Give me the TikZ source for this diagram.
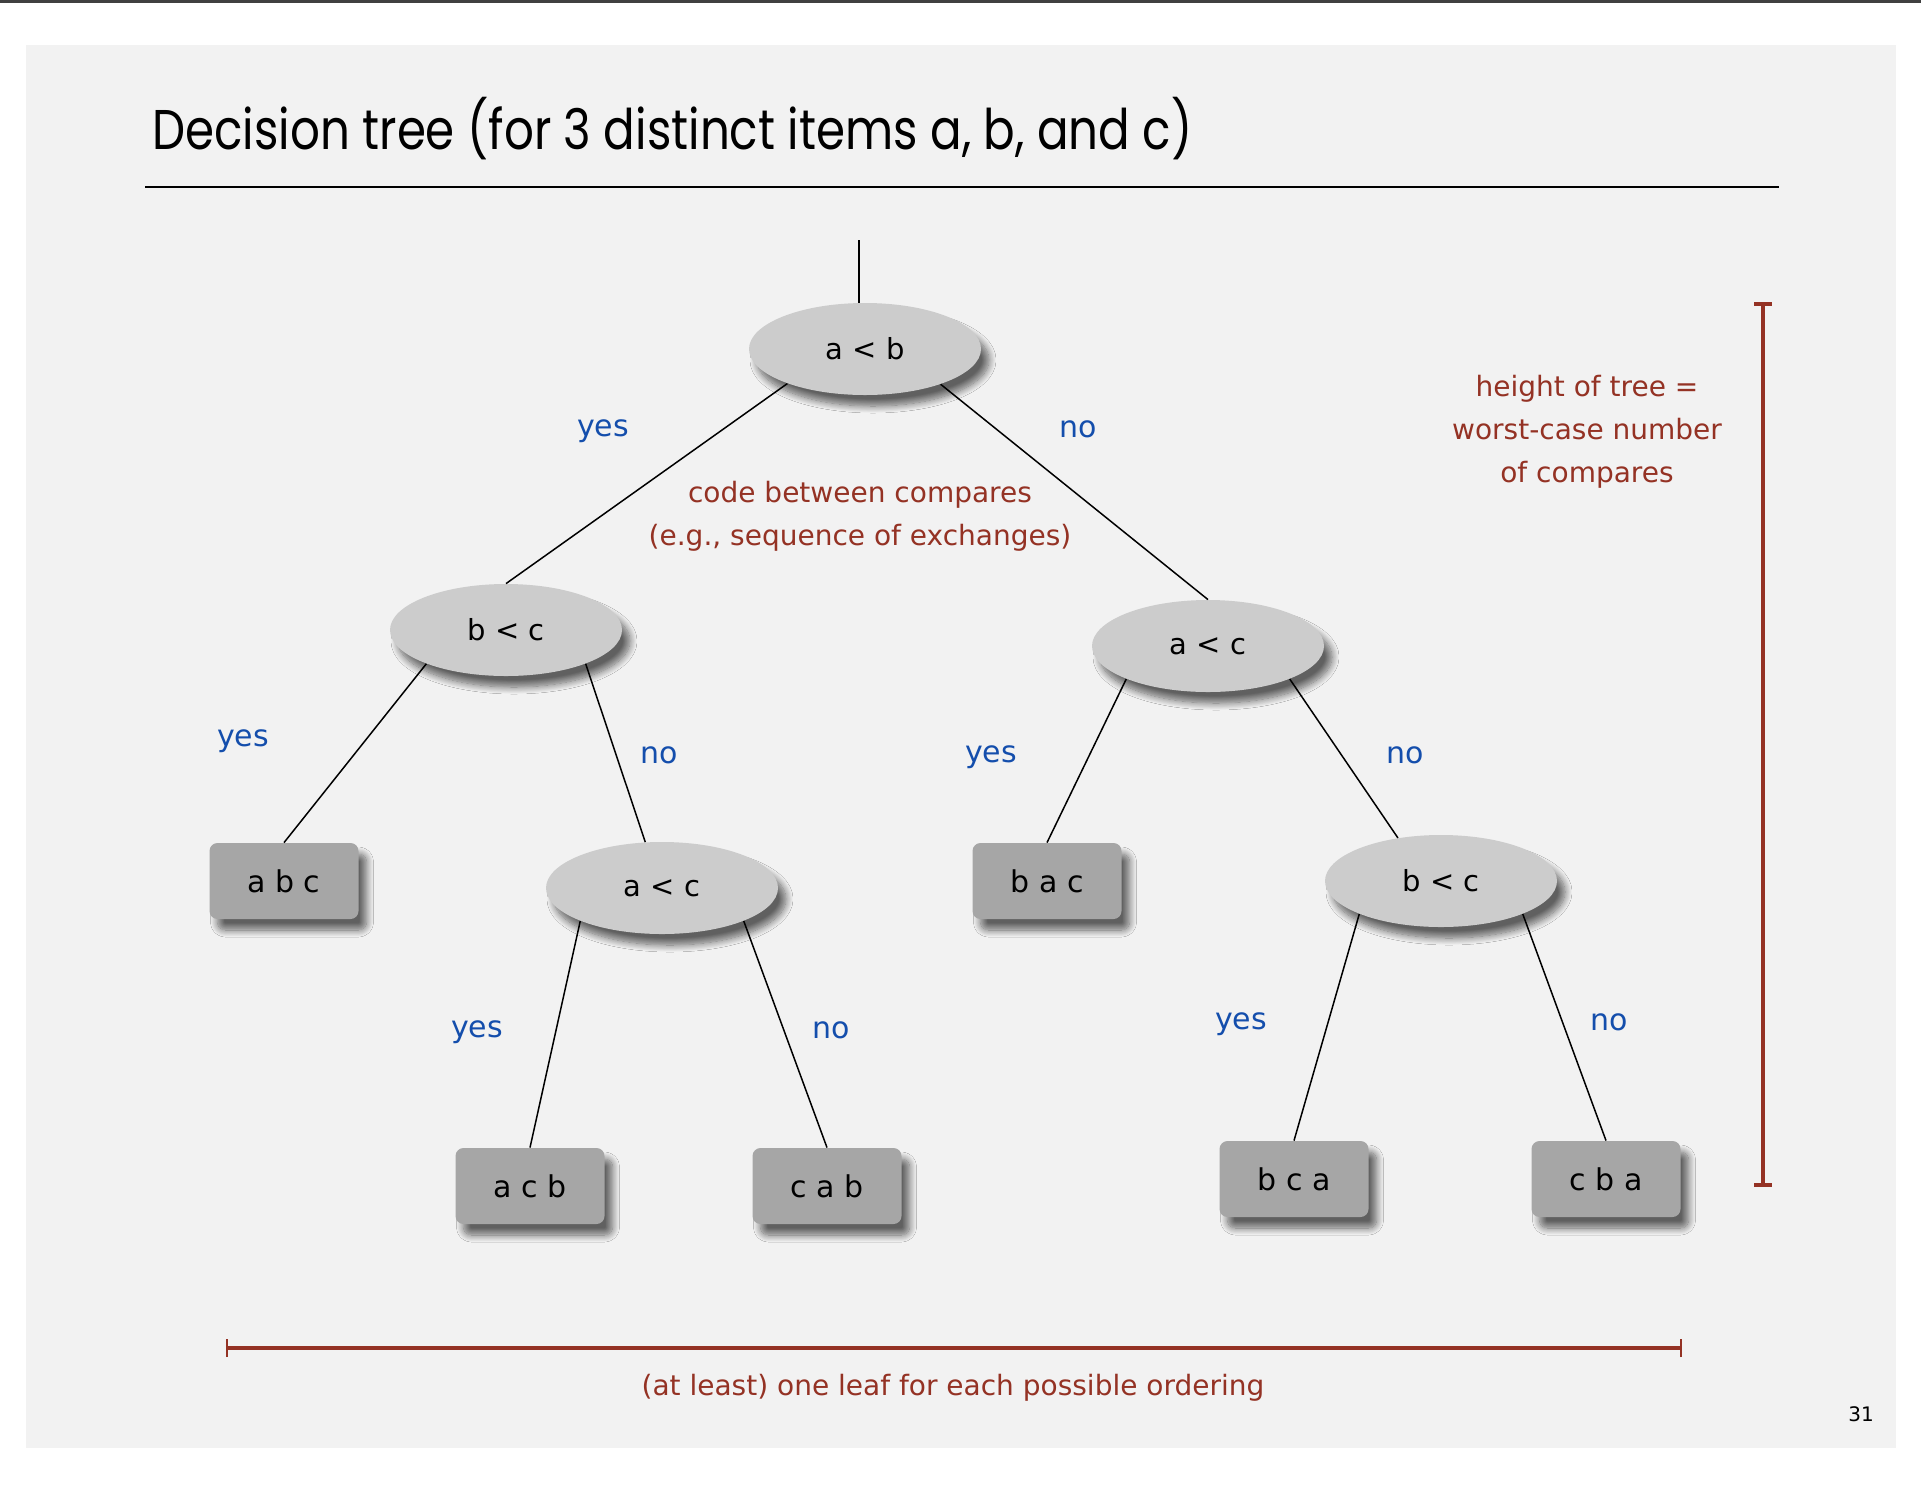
\documentclass[tikz,border=0pt]{standalone}
\usepackage{fontspec}
\setmainfont{DejaVu Sans}
\newfontfamily\titlefont[FakeStretch=0.835]{Poppins}
\usetikzlibrary{shapes.geometric,shadows.blur}
\definecolor{panel}{HTML}{F2F2F2}
\definecolor{ellfill}{HTML}{CCCCCC}
\definecolor{leaffill}{HTML}{A6A6A6}
\definecolor{lblblue}{RGB}{20,78,172}
\definecolor{notered}{RGB}{148,50,36}
\tikzset{
  softshadow/.style={blur shadow={shadow xshift=4pt, shadow yshift=-5.5pt, shadow blur radius=3.5pt, shadow blur steps=12, shadow opacity=60}},
  cmp/.style={ellipse, fill=ellfill, minimum width=116pt, minimum height=46pt, inner sep=0pt,
    font=\fontsize{14.5}{17}\selectfont, softshadow},
  leaf/.style={rectangle, rounded corners=4pt, fill=leaffill, minimum width=74.5pt, minimum height=38pt, inner sep=0pt,
    font=\fontsize{15}{17}\selectfont, softshadow},
  yn/.style={text=lblblue, font=\fontsize{15}{17}\selectfont, inner sep=0pt},
  note/.style={text=notered, font=\fontsize{14}{21.5}\selectfont, align=center, inner sep=0pt},
  edge/.style={line width=0.75pt},
  bracket/.style={notered, line width=1.6pt}
}
\begin{document}
\begin{tikzpicture}[x=0.5pt,y=-0.5pt]
\useasboundingbox (0,0) rectangle (1921,1489);
\fill[white] (0,0) rectangle (1921,1489);
\fill[black!75] (0,0) rectangle (1921,3);
\fill[panel] (26,45) rectangle (1896,1448);
% title
\node[anchor=base west, inner sep=0pt, font=\titlefont\fontsize{28}{32}\selectfont] (title) at (152,149) {Decision tree (for 3 distinct items a, b, and c)};
\draw[line width=1pt] (145,187) coordinate (rl) -- (1779,187) coordinate (rr);
% nodes
\node[cmp] (ab) at (865,349) {a < b};
\node[cmp] (bc) at (506,630) {b < c};
\node[cmp] (acR) at (1208,646) {a < c};
\node[cmp] (acL) at (662,888) {a < c};
\node[cmp] (bcR) at (1441,881) {b < c};
\node[leaf] (abc) at (284,881) {a b c};
\node[leaf] (bac) at (1047,881) {b a c};
\node[leaf] (acb) at (530,1186) {a c b};
\node[leaf] (cab) at (827,1186) {c a b};
\node[leaf] (bca) at (1294,1179) {b c a};
\node[leaf] (cba) at (1606,1179) {c b a};
% edges
\coordinate (top) at (859,240);
\draw[line width=1pt] (top) -- (top |- ab.north);
\draw[edge] (ab.204) -- (bc.north);
\draw[edge] (ab.335) -- (acR.north);
\draw[edge] (bc.203) -- (abc.north);
\draw[edge] (bc.337) -- (acL.110);
\draw[edge] (acR.202) -- (bac.north);
\draw[edge] (acR.338) -- (bcR.135);
\draw[edge] (acL.202) -- (acb.north);
\draw[edge] (acL.338) -- (cab.north);
\draw[edge] (bcR.202) -- (bca.north);
\draw[edge] (bcR.338) -- (cba.north);
% labels
\node[yn] (y1) at (603,431) {yes};
\node[yn] (n1) at (1078,429) {no};
\node[yn] (y2) at (243,741) {yes};
\node[yn] (n2) at (659,755) {no};
\node[yn] (y3) at (991,757) {yes};
\node[yn] (n3) at (1405,755) {no};
\node[yn] (y4) at (477,1032) {yes};
\node[yn] (n4) at (831,1030) {no};
\node[yn] (y5) at (1241,1024) {yes};
\node[yn] (n5) at (1609,1022) {no};
\node[note] (code) at (860,516) {code between compares\\(e.g., sequence of exchanges)};
\node[note] (height) at (1587,432) {height of tree =\\worst-case number\\of compares};
\node[note] (leafnote) at (953,1388) {(at least) one leaf for each possible ordering};
% brackets
\coordinate (vt) at (1763,304);
\coordinate (vb) at (1763,1185);
\draw[bracket] (vt) -- (vb);
\draw[bracket] ([xshift=-4.5pt]vt) -- ([xshift=4.5pt]vt);
\draw[bracket] ([xshift=-4.5pt]vb) -- ([xshift=4.5pt]vb);
\coordinate (hl) at (227,1348);
\coordinate (hr) at (1681,1348);
\draw[bracket] (hl) -- (hr);
\draw[bracket, line width=1pt] ([yshift=-4.5pt]hl) -- ([yshift=4.5pt]hl);
\draw[bracket, line width=1pt] ([yshift=-4.5pt]hr) -- ([yshift=4.5pt]hr);
\node[font=\fontsize{10}{12}\selectfont, inner sep=0pt] (pnum) at (1861,1414) {31};
\end{tikzpicture}
\end{document}
